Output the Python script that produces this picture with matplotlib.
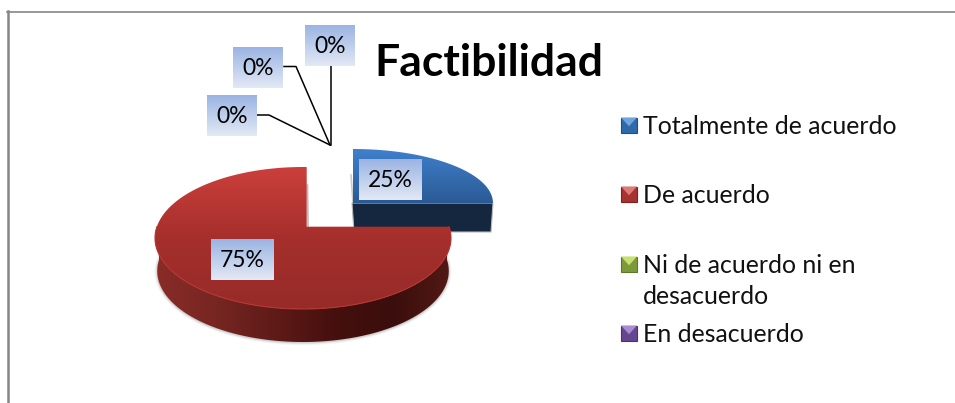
import numpy as np
import matplotlib
matplotlib.use('Agg')
import matplotlib.pyplot as plt
from matplotlib.colors import LinearSegmentedColormap
from matplotlib.patches import Polygon, Rectangle

plt.rcParams['font.family'] = ['Lato', 'DejaVu Sans']

title = 'Factibilidad'
categories = ['Totalmente de acuerdo', 'De acuerdo', 'Ni de acuerdo ni en\ndesacuerdo', 'En desacuerdo']
legend_colors = [('#2f6aa8', '#6fa3dc', '#234f80'), ('#a83230', '#dc7a76', '#7d2423'),
                 ('#7d9a3a', '#c8e070', '#5f752b'), ('#65478f', '#a98bd0', '#4a3469')]
values = [25, 75, 0, 0, 0]

W, H = 955, 403
fig = plt.figure(figsize=(W / 100, H / 100), dpi=100)
ax = fig.add_axes([0, 0, 1, 1])
ax.set_xlim(0, W)
ax.set_ylim(H, 0)
ax.axis('off')


def cmap(*colors):
    return LinearSegmentedColormap.from_list('c', colors)


def gradient(patch, box, colors, vertical=True, z=2):
    # image with the colour ramp, clipped to the patch
    ramp = np.linspace(0, 1, 256)
    ramp = ramp[:, None] if vertical else ramp[None, :]
    ax.add_patch(patch)
    patch.set_visible(False)
    im = ax.imshow(ramp, cmap=cmap(*colors), extent=[box[0], box[1], box[3], box[2]],
                   aspect='auto', zorder=z, interpolation='bilinear')
    im.set_clip_path(patch.get_path(), patch.get_transform())


def rim(apex, center, rx, ry, thetas):
    # where a ray from the apex at each angle meets the tilted ellipse
    pts = []
    for th in np.radians(thetas):
        dx, dy = np.cos(th) / rx, -np.sin(th) / ry
        ox, oy = (apex[0] - center[0]) / rx, (apex[1] - center[1]) / ry
        a = dx * dx + dy * dy
        b = 2 * (ox * dx + oy * dy)
        c = ox * ox + oy * oy - 1
        s = (-b + np.sqrt(b * b - 4 * a * c)) / (2 * a)
        pts.append((apex[0] + s * np.cos(th), apex[1] - s * np.sin(th)))
    return np.array(pts)


total = sum(values)
sweep_blue = 360 * values[0] / total
sweep_red = 360 * values[1] / total

# blue slice, pulled out to the upper right
b_apex = (353, 203)
b_arc = rim(b_apex, (353, 203), 140, 54, np.linspace(90, 90 - sweep_blue, 80))
ax.add_patch(Polygon([(b_apex[0] - 1, b_apex[1]), (493, 203), (491, 232), (354, 232)],
                     closed=True, fc='#15263f', ec='#b8b8b8', lw=0.8, zorder=1))
ax.plot([351, 353], [175, 203], color='#999999', lw=1.2, alpha=0.5, zorder=1)
gradient(Polygon(np.vstack([[b_apex], b_arc]), closed=True, transform=ax.transData),
         (350, 495, 149, 204), ['#3f7fcc', '#2a5a94'])

# red slice
r_apex = (306.7, 226.7)
r_center = (303, 238)
r_arc = rim(r_apex, r_center, 148, 71, np.linspace(0, -sweep_red, 240))
front = rim(r_apex, r_center, 148, 71, np.linspace(0, -180, 160))
lower = np.column_stack([303 + (front[:, 0] - 303) * 0.985, front[:, 1] + 33])

# soft shadow under the wall
for lw, al in [(4, 0.05), (2.5, 0.09), (1.2, 0.16)]:
    ax.plot(lower[:, 0], lower[:, 1] + 0.5, color='#555555', lw=lw, alpha=al, zorder=1.5)
ax.plot([307.5, 308], [185, 226], color='#777777', lw=1.2, alpha=0.5, zorder=1.5)

wall = np.vstack([front, lower[::-1]])
gradient(Polygon(wall, closed=True, transform=ax.transData), (155, 452, 220, 345),
         ['#8a2c28', '#772622', '#5f1b18', '#45100e', '#3a0e0c', '#531a15'], vertical=False)
gradient(Polygon(np.vstack([[r_apex], r_arc]), closed=True, transform=ax.transData),
         (155, 452, 167, 310), ['#cb3f3b', '#a52f2c', '#962b28'], z=3)
ax.plot(front[:, 0], front[:, 1], color='#b83530', lw=0.8, zorder=3.1)


# data labels
def label(x0, x1, y0, y1, value):
    gradient(Rectangle((x0, y0), x1 - x0, y1 - y0, transform=ax.transData), (x0, x1, y0, y1),
             ['#9ab4e2', '#e3e9f5'], z=5)
    ax.text((x0 + x1) / 2, (y0 + y1) / 2 + 1, f'{value}%', ha='center', va='center',
            fontsize=16.5, color='black', zorder=6)


label(359, 422, 159, 200, values[0])
label(211, 274, 239, 280, values[1])
label(207, 257, 95, 136, values[2])
label(233, 283, 47, 88, values[3])
label(305, 355, 25, 66, values[4])

# leader lines to the empty slices
tip = (330, 145)
ax.plot([257, 269, tip[0]], [115, 115, tip[1]], color='black', lw=1.1, zorder=4)
ax.plot([284, 296, tip[0]], [66.5, 66.5, tip[1]], color='black', lw=1.1, zorder=4)
ax.plot([330.5, tip[0] + 0.5], [66, tip[1]], color='black', lw=1.1, zorder=4)

ax.text(374, 63.5, title, fontsize=32, fontweight='bold', ha='left', va='center', color='black')

# legend
rows = [125, 194, 264, 333]
for cat, (base, light, dark), y in zip(categories, legend_colors, rows):
    x0, x1, y0, y1 = 621, 637, y - 7.5, y + 8
    ax.add_patch(Rectangle((x0, y0), x1 - x0, y1 - y0, fc=base, ec=dark, lw=0.8, zorder=2))
    ax.add_patch(Polygon([(x0, y0), (x1, y0), ((x0 + x1) / 2, (y0 + y1) / 2 + 1)],
                         closed=True, fc=light, ec='none', zorder=3))
    ax.text(643, y - 10, cat, fontsize=17.9, ha='left', va='top', color='#111111',
            linespacing=1.4)

# chart frame, only top and left survive the crop
ax.plot([7, W], [11.5, 11.5], color='#868686', lw=1.2, zorder=1, clip_on=True)
ax.plot([7.5, 7.5], [11, H], color='#868686', lw=1.8, zorder=1)

ax.set_xlim(0, W)
ax.set_ylim(H, 0)
fig.savefig('out.png', dpi=100, facecolor='white')
